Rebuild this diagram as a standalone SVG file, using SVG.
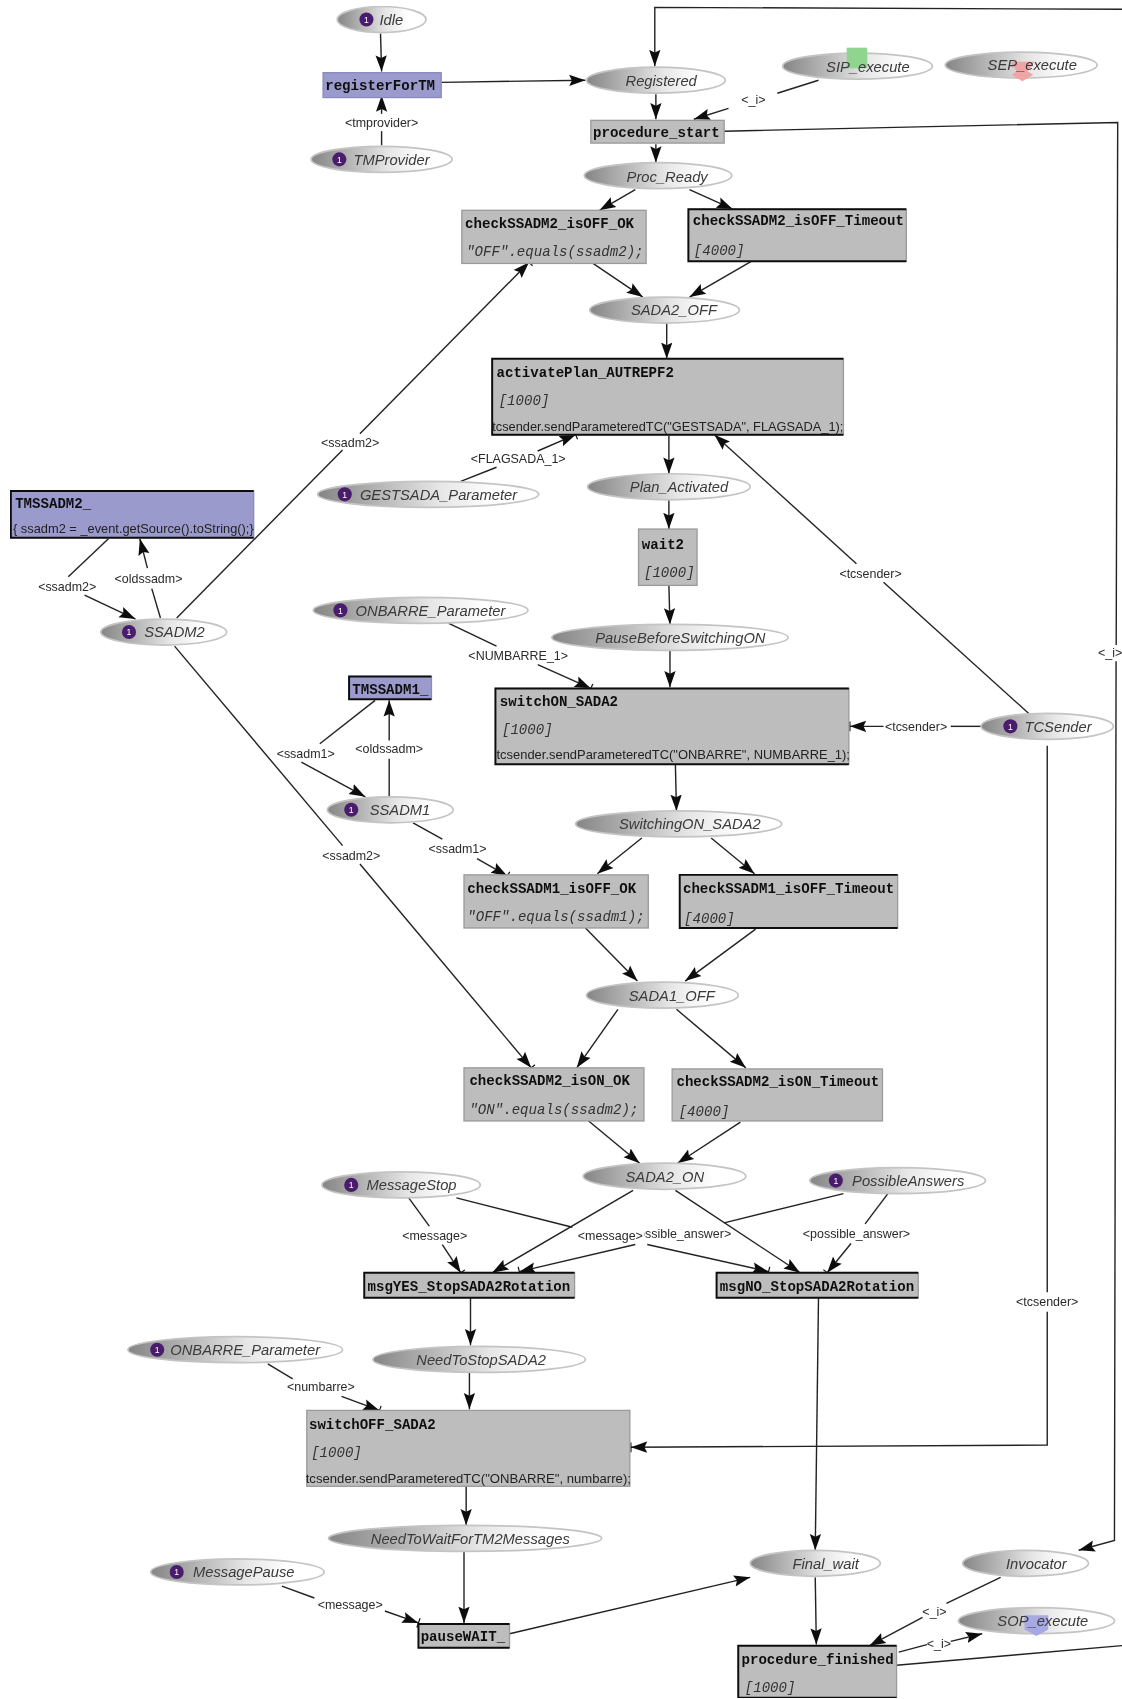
<svg xmlns="http://www.w3.org/2000/svg" width="1122" height="1699" viewBox="0 0 1122 1699">
<defs>
<linearGradient id="pg" x1="0" x2="1" y1="0" y2="0"><stop offset="0" stop-color="#858585"/><stop offset="0.55" stop-color="#e6e6e6"/><stop offset="0.8" stop-color="#ffffff"/></linearGradient>
<marker id="a" markerUnits="userSpaceOnUse" markerWidth="16" markerHeight="12" viewBox="0 0 16 12" refX="15" refY="6" orient="auto"><path d="M0 0.8L15 6L0 11.2L2.5 6Z" fill="#111"/></marker>
<marker id="t" markerUnits="userSpaceOnUse" markerWidth="16" markerHeight="14" viewBox="0 0 16 14" refX="15" refY="7" orient="auto"><path d="M0 1.8L15 7L0 12.2L2.5 7Z" fill="#111"/><path d="M15 2.5V11.5" stroke="#111" stroke-width="1.1" fill="none"/></marker>
<filter id="soft" x="0" y="0" width="100%" height="100%"><feGaussianBlur stdDeviation="0.35"/></filter>
</defs>
<style>
.c path{fill:none;stroke:#222;stroke-width:1.3}
.c path.e{marker-end:url(#a)}
.c path.k{marker-end:url(#t)}
.l{font:11.5px "Liberation Sans",Arial,sans-serif;fill:#2a2a2a;text-anchor:middle}
.p ellipse{fill:url(#pg);stroke:#c4c4c4;stroke-width:1.6}
.p text{font:italic 13.6px "Liberation Sans",Arial,sans-serif;fill:#3a3a3a}
.p circle{fill:#4a1a6c}
.p text.n{font:8px "Liberation Sans",Arial,sans-serif;fill:#fff;text-anchor:middle}
.g rect{fill:#bdbdbd;stroke:#9a9a9a;stroke-width:1.2}
.m rect{fill:#9a9acc;stroke:#8a8ac0;stroke-width:1.2}
.d{fill:none;stroke:#111;stroke-width:1.8}
.tt{font:bold 13px "Liberation Mono",monospace;fill:#111}
.gd{font:italic 13px "Liberation Mono",monospace;fill:#333}
.cd{font:12.5px "Liberation Sans",Arial,sans-serif;fill:#222}
</style>
<rect width="1122" height="1699" fill="#fff"/>
<g transform="scale(1.0841)" filter="url(#soft)">
<g id="connectors" class="c">
<path class="e" d="M351 31L352 66"/>
<path class="e" d="M407 76L540 74"/>
<path d="M352 134V121"/><path class="k" d="M352 105V88"/>
<path class="e" d="M605 87V110"/>
<path d="M755 74L717 86"/><path class="e" d="M672 100L640 110"/>
<path class="e" d="M605 133V150"/>
<path class="e" d="M586 175L553 194"/>
<path class="e" d="M636 175L676 193"/>
<path class="e" d="M547 243L593 274"/>
<path class="e" d="M693 241L636 274"/>
<path class="e" d="M615 298V331"/>
<path d="M668 121L1031 113L1029.6 595"/><path class="e" d="M1029.5 610L1028 1421L995 1430"/>
<path d="M827 1536L1035 1518"/>
<path class="e" d="M1035 8.6L604 6.8V61"/>
<path d="M425 444L458 431"/><path class="k" d="M496 416L531 401"/>
<path class="e" d="M617 402V437"/>
<path d="M951 660L815 537"/><path class="e" d="M790 520L659 401"/>
<path class="e" d="M617 461V488"/>
<path class="e" d="M617 540L618 576"/>
<path class="e" d="M618 600V634"/>
<path d="M414 575L458 596"/><path class="k" d="M496 613L545 635"/>
<path d="M905 670H877"/><path class="k" d="M815 670H784"/>
<path class="e" d="M623 705L624 748"/>
<path class="e" d="M592 773L551 806"/>
<path class="e" d="M656 773L696 806"/>
<path class="e" d="M540 856L588 905"/>
<path class="e" d="M697 857L632 905"/>
<path class="e" d="M570 931L532 985"/>
<path class="e" d="M624 931L688 985"/>
<path class="e" d="M543 1034L590 1073"/>
<path class="e" d="M683 1035L625 1073"/>
<path d="M100 497L63 532"/><path class="e" d="M78 549L125 571"/>
<path d="M148 570L140 543"/><path class="e" d="M136 524L129 497"/>
<path d="M163 570L316 415"/><path class="k" d="M332 400L488 242"/>
<path d="M161 596L316 780"/><path class="k" d="M332 797L490 985"/>
<path d="M346 646L295 686"/><path class="e" d="M278 703L337 735"/>
<path d="M359 735V700"/><path class="e" d="M359 683V646"/>
<path d="M381 759L408 774"/><path class="k" d="M440 792L468 808"/>
<path d="M377 1105L396 1131"/><path class="k" d="M408 1148L425 1174"/>
<path d="M421 1105L528 1132"/><path class="k" d="M597 1148L709 1173"/>
<path d="M778 1101L668 1128"/><path class="k" d="M586 1148L479 1173"/>
<path class="e" d="M584 1098L454 1174"/>
<path class="e" d="M623 1098L738 1174"/>
<path d="M819 1101L798 1129"/><path class="k" d="M785 1147L763 1174"/>
<path class="e" d="M434 1197V1241"/>
<path class="e" d="M755 1197L752 1430"/>
<path class="e" d="M433 1266V1300"/>
<path d="M247 1258L270 1272"/><path class="k" d="M315 1288L350 1301"/>
<path d="M966 688V1192"/><path class="k" d="M966 1210V1333L582 1335"/>
<path class="e" d="M430 1371V1407"/>
<path class="e" d="M428 1431V1497"/>
<path d="M260 1463L290 1474"/><path class="k" d="M355 1486L386 1497"/>
<path class="e" d="M470 1507L692 1455"/>
<path class="e" d="M752 1455L753 1517"/>
<path d="M923 1455L873 1479"/><path class="e" d="M851 1492L802 1518"/>
<path d="M829 1524L855 1517"/><path class="e" d="M877 1514L906 1507"/>
<text class="l" x="352" y="117">&lt;tmprovider&gt;</text>
<text class="l" x="695" y="96">&lt;_i&gt;</text>
<text class="l" x="1024" y="606">&lt;_i&gt;</text>
<text class="l" x="478" y="427">&lt;FLAGSADA_1&gt;</text>
<text class="l" x="803" y="533">&lt;tcsender&gt;</text>
<text class="l" x="478" y="609">&lt;NUMBARRE_1&gt;</text>
<text class="l" x="845" y="674">&lt;tcsender&gt;</text>
<text class="l" x="62" y="545">&lt;ssadm2&gt;</text>
<text class="l" x="137" y="538">&lt;oldssadm&gt;</text>
<text class="l" x="323" y="412">&lt;ssadm2&gt;</text>
<text class="l" x="324" y="793">&lt;ssadm2&gt;</text>
<text class="l" x="282" y="699">&lt;ssadm1&gt;</text>
<text class="l" x="359" y="695">&lt;oldssadm&gt;</text>
<text class="l" x="422" y="787">&lt;ssadm1&gt;</text>
<text class="l" x="401" y="1144">&lt;message&gt;</text>
<text class="l" x="625" y="1142">&lt;possible_answer&gt;</text>
<rect x="532" y="1132" width="62" height="14" fill="#fff"/>
<text class="l" x="563" y="1144">&lt;message&gt;</text>
<text class="l" x="790" y="1142">&lt;possible_answer&gt;</text>
<text class="l" x="296" y="1283">&lt;numbarre&gt;</text>
<text class="l" x="966" y="1205">&lt;tcsender&gt;</text>
<text class="l" x="323" y="1484">&lt;message&gt;</text>
<text class="l" x="862" y="1491">&lt;_i&gt;</text>
<text class="l" x="866" y="1520">&lt;_i&gt;</text>
</g>

<g id="Idle" class="p"><ellipse cx="352" cy="18" rx="41" ry="12"/><circle cx="338" cy="18" r="6.5"/><text class="n" x="338" y="21">1</text><text x="350" y="23">Idle</text></g>
<g id="Registered" class="p"><ellipse cx="605" cy="74" rx="64" ry="12"/><text x="577" y="79">Registered</text></g>
<g id="SIP_execute" class="p"><ellipse cx="791" cy="61" rx="69" ry="12"/><rect x="781" y="44" width="19" height="19" fill="#8fd48f"/><text x="762" y="66">SIP_execute</text></g>
<g id="SEP_execute" class="p"><ellipse cx="942" cy="60" rx="70" ry="12"/><polygon points="932,57 954,57 948,66 953,69 943,75 933,69 938,66" fill="#f0a4a4"/><text x="911" y="65">SEP_execute</text></g>
<g id="TMProvider" class="p"><ellipse cx="352" cy="147" rx="65" ry="12"/><circle cx="313" cy="147" r="6.5"/><text class="n" x="313" y="150">1</text><text x="326" y="152">TMProvider</text></g>
<g id="Proc_Ready" class="p"><ellipse cx="607" cy="162" rx="68" ry="12"/><text x="578" y="168">Proc_Ready</text></g>
<g id="SADA2_OFF" class="p"><ellipse cx="613" cy="286" rx="69" ry="12"/><text x="582" y="291">SADA2_OFF</text></g>
<g id="Plan_Activated" class="p"><ellipse cx="617" cy="449" rx="75" ry="12"/><text x="581" y="454">Plan_Activated</text></g>
<g id="GESTSADA_Parameter" class="p"><ellipse cx="395" cy="456" rx="102" ry="12"/><circle cx="318" cy="456" r="6.5"/><text class="n" x="318" y="459">1</text><text x="332" y="461">GESTSADA_Parameter</text></g>
<g id="PauseBeforeSwitchingON" class="p"><ellipse cx="618" cy="588" rx="109" ry="12"/><text x="549" y="593">PauseBeforeSwitchingON</text></g>
<g id="ONBARRE_Parameter1" class="p"><ellipse cx="388" cy="563" rx="99" ry="12"/><circle cx="314" cy="563" r="6.5"/><text class="n" x="314" y="566">1</text><text x="328" y="568">ONBARRE_Parameter</text></g>
<g id="SSADM2" class="p"><ellipse cx="151" cy="583" rx="58" ry="12"/><circle cx="119" cy="583" r="6.5"/><text class="n" x="119" y="586">1</text><text x="133" y="588">SSADM2</text></g>
<g id="SSADM1" class="p"><ellipse cx="360" cy="747" rx="58" ry="12"/><circle cx="324" cy="747" r="6.5"/><text class="n" x="324" y="750">1</text><text x="341" y="752">SSADM1</text></g>
<g id="TCSender" class="p"><ellipse cx="966" cy="670" rx="61" ry="12"/><circle cx="932" cy="670" r="6.5"/><text class="n" x="932" y="673">1</text><text x="945" y="675">TCSender</text></g>
<g id="SwitchingON_SADA2" class="p"><ellipse cx="626" cy="760" rx="95" ry="12"/><text x="571" y="765">SwitchingON_SADA2</text></g>
<g id="SADA1_OFF" class="p"><ellipse cx="611" cy="918" rx="70" ry="12"/><text x="580" y="923">SADA1_OFF</text></g>
<g id="SADA2_ON" class="p"><ellipse cx="613" cy="1085" rx="75" ry="12"/><text x="577" y="1090">SADA2_ON</text></g>
<g id="MessageStop" class="p"><ellipse cx="370" cy="1093" rx="73" ry="12"/><circle cx="324" cy="1093" r="6.5"/><text class="n" x="324" y="1096">1</text><text x="338" y="1098">MessageStop</text></g>
<g id="PossibleAnswers" class="p"><ellipse cx="828" cy="1089" rx="81" ry="12"/><circle cx="771" cy="1089" r="6.5"/><text class="n" x="771" y="1092">1</text><text x="786" y="1094">PossibleAnswers</text></g>
<g id="NeedToStopSADA2" class="p"><ellipse cx="442" cy="1254" rx="98" ry="12"/><text x="384" y="1259">NeedToStopSADA2</text></g>
<g id="ONBARRE_Parameter2" class="p"><ellipse cx="217" cy="1245" rx="99" ry="12"/><circle cx="145" cy="1245" r="6.5"/><text class="n" x="145" y="1248">1</text><text x="157" y="1250">ONBARRE_Parameter</text></g>
<g id="NeedToWaitForTM2Messages" class="p"><ellipse cx="429" cy="1419" rx="126" ry="12"/><text x="342" y="1424">NeedToWaitForTM2Messages</text></g>
<g id="MessagePause" class="p"><ellipse cx="219" cy="1450" rx="80" ry="12"/><circle cx="163" cy="1450" r="6.5"/><text class="n" x="163" y="1453">1</text><text x="178" y="1455">MessagePause</text></g>
<g id="Final_wait" class="p"><ellipse cx="752" cy="1442" rx="60" ry="12"/><text x="731" y="1447">Final_wait</text></g>
<g id="Invocator" class="p"><ellipse cx="946" cy="1442" rx="58" ry="12"/><text x="928" y="1447">Invocator</text></g>
<g id="SOP_execute" class="p"><ellipse cx="956" cy="1495" rx="72" ry="12"/><polygon points="945,1490 967,1490 967,1503 956,1509 945,1503" fill="#a8a8e4"/><text x="920" y="1500">SOP_execute</text></g>

<g id="registerForTM" class="m"><rect x="298" y="67" width="109" height="23"/><text class="tt" x="300" y="83">registerForTM</text></g>
<g id="procedure_start" class="g"><rect x="545" y="111" width="123" height="21"/><text class="tt" x="547" y="126">procedure_start</text></g>
<g id="checkSSADM2_isOFF_OK" class="g"><rect x="426" y="194" width="170" height="49"/><text class="tt" x="429" y="210">checkSSADM2_isOFF_OK</text><text class="gd" x="430" y="236">"OFF".equals(ssadm2);</text></g>
<g id="checkSSADM2_isOFF_Timeout" class="g"><rect x="635" y="193" width="201" height="48" stroke="none"/><path class="d" d="M836 193H635V241H836"/><text class="tt" x="639" y="208">checkSSADM2_isOFF_Timeout</text><text class="gd" x="640" y="235">[4000]</text></g>
<g id="activatePlan_AUTREPF2" class="g"><rect x="454" y="331" width="324" height="70" stroke="none"/><path class="d" d="M778 331H454V401H778"/><text class="tt" x="458" y="348">activatePlan_AUTREPF2</text><text class="gd" x="460" y="374">[1000]</text><text class="cd" x="454" y="398" textLength="324" lengthAdjust="spacingAndGlyphs">tcsender.sendParameteredTC("GESTSADA", FLAGSADA_1);</text></g>
<g id="wait2" class="g"><rect x="589" y="488" width="54" height="52"/><text class="tt" x="592" y="506">wait2</text><text class="gd" x="594" y="532">[1000]</text></g>
<g id="TMSSADM2_" class="m"><rect x="10" y="453" width="224" height="43"/><path class="d" d="M234 453H10V496H234"/><text class="tt" x="14" y="469">TMSSADM2_</text><text class="cd" x="12" y="492" textLength="222" lengthAdjust="spacingAndGlyphs">{ ssadm2 = _event.getSource().toString();}</text></g>
<g id="switchON_SADA2" class="g"><rect x="457" y="635" width="326" height="70" stroke="none"/><path class="d" d="M783 635H457V705H783"/><text class="tt" x="461" y="651">switchON_SADA2</text><text class="gd" x="463" y="677">[1000]</text><text class="cd" x="458" y="700" textLength="326" lengthAdjust="spacingAndGlyphs">tcsender.sendParameteredTC("ONBARRE", NUMBARRE_1);</text></g>
<g id="TMSSADM1_" class="m"><rect x="322" y="624" width="76" height="21"/><path class="d" d="M398 624H322V645H398"/><text class="tt" x="325" y="640">TMSSADM1_</text></g>
<g id="checkSSADM1_isOFF_OK" class="g"><rect x="428" y="807" width="170" height="49"/><text class="tt" x="431" y="824">checkSSADM1_isOFF_OK</text><text class="gd" x="431" y="850">"OFF".equals(ssadm1);</text></g>
<g id="checkSSADM1_isOFF_Timeout" class="g"><rect x="627" y="807" width="201" height="49" stroke="none"/><path class="d" d="M828 807H627V856H828"/><text class="tt" x="630" y="824">checkSSADM1_isOFF_Timeout</text><text class="gd" x="631" y="851">[4000]</text></g>
<g id="checkSSADM2_isON_OK" class="g"><rect x="428" y="985" width="166" height="49"/><text class="tt" x="433" y="1001">checkSSADM2_isON_OK</text><text class="gd" x="433" y="1028">"ON".equals(ssadm2);</text></g>
<g id="checkSSADM2_isON_Timeout" class="g"><rect x="620" y="986" width="194" height="48"/><text class="tt" x="624" y="1002">checkSSADM2_isON_Timeout</text><text class="gd" x="626" y="1029">[4000]</text></g>
<g id="msgYES_StopSADA2Rotation" class="g"><rect x="336" y="1174" width="194" height="23" stroke="none"/><path class="d" d="M530 1174H336V1197H530"/><text class="tt" x="339" y="1191">msgYES_StopSADA2Rotation</text></g>
<g id="msgNO_StopSADA2Rotation" class="g"><rect x="661" y="1174" width="186" height="23" stroke="none"/><path class="d" d="M847 1174H661V1197H847"/><text class="tt" x="664" y="1191">msgNO_StopSADA2Rotation</text></g>
<g id="switchOFF_SADA2" class="g"><rect x="283" y="1301" width="298" height="70"/><text class="tt" x="285" y="1318">switchOFF_SADA2</text><text class="gd" x="287" y="1344">[1000]</text><text class="cd" x="282" y="1368" textLength="300" lengthAdjust="spacingAndGlyphs">tcsender.sendParameteredTC("ONBARRE", numbarre);</text></g>
<g id="pauseWAIT_" class="g"><rect x="386" y="1498" width="84" height="22" stroke="none"/><path class="d" d="M470 1498H386V1520H470"/><text class="tt" x="388" y="1514">pauseWAIT_</text></g>
<g id="procedure_finished" class="g"><rect x="681" y="1518" width="146" height="48" stroke="none"/><path class="d" d="M827 1518H681V1566H827"/><text class="tt" x="684" y="1535">procedure_finished</text><text class="gd" x="687" y="1561">[1000]</text></g>
</g>
</svg>
